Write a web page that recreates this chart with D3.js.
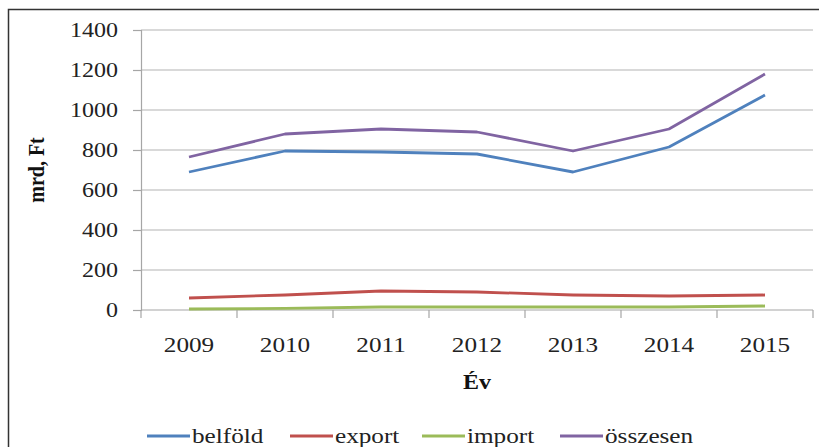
<!DOCTYPE html>
<html><head><meta charset="utf-8">
<script src="https://cdn.jsdelivr.net/npm/d3@7/dist/d3.min.js"></script>
<style>body{margin:0;background:#fff}svg{display:block}</style>
</head><body>
<svg id="c" width="819" height="447"></svg>
<script>
const years = ["2009","2010","2011","2012","2013","2014","2015"];
const belfold = [690, 795, 790, 780, 690, 815, 1075];
const exportV = [60, 75, 95, 90, 75, 70, 75];
const importV = [5, 8, 15, 15, 15, 15, 20];
const osszesen = [765, 880, 905, 890, 795, 905, 1180];
const yTicks = [0, 200, 400, 600, 800, 1000, 1200, 1400];
const seriesNames = ["belföld", "export", "import", "összesen"];
const seriesColors = ["#4F81BD", "#C0504D", "#9BBB59", "#8064A2"];
const seriesData = [belfold, exportV, importV, osszesen];

(function () {
const svg = d3.select("#c");
const font = "'Liberation Serif','Times New Roman',serif";
const sx = 1.2;

svg.append("rect").attr("x", 8.5).attr("y", 9.5).attr("width", 830).attr("height", 460)
  .attr("fill", "#fff").attr("stroke", "#333").attr("stroke-width", 1.5);

const pLeft = 141, pRight = 813, pTop = 30, pBottom = 310;
const x = d3.scaleBand().domain(years).range([pLeft, pRight]);
const y = d3.scaleLinear().domain([0, 1400]).range([pBottom, pTop]);

// gridlines
svg.append("g").selectAll("line").data(yTicks.filter(d => d > 0)).join("line")
  .attr("x1", pLeft).attr("x2", pRight).attr("y1", d => y(d)).attr("y2", d => y(d))
  .attr("stroke", "#d9d9d9").attr("stroke-width", 1.8);

// y axis
const yAxis = svg.append("g").attr("transform", `translate(${pLeft},0)`)
  .call(d3.axisLeft(y).tickValues(yTicks).tickSize(8).tickPadding(0).tickFormat(d3.format("d")));
yAxis.select(".domain").attr("stroke", "#a6a6a6").attr("stroke-width", 1.2);
yAxis.selectAll(".tick line").attr("stroke", "#a6a6a6").attr("stroke-width", 1.2);
yAxis.selectAll(".tick text").remove();
svg.append("g").selectAll("text").data(yTicks).join("text")
  .attr("transform", d => `translate(118,${y(d) + 7}) scale(${sx},1)`)
  .attr("text-anchor", "end").attr("font-family", font).attr("font-size", 20).attr("fill", "#222")
  .text(d => d);

// x axis
svg.append("line").attr("x1", pLeft).attr("x2", pRight).attr("y1", pBottom).attr("y2", pBottom)
  .attr("stroke", "#a6a6a6").attr("stroke-width", 1.2);
const bounds = years.map(d => x(d)).concat([pRight]);
svg.append("g").selectAll("line").data(bounds).join("line")
  .attr("x1", d => d).attr("x2", d => d).attr("y1", pBottom).attr("y2", pBottom + 8)
  .attr("stroke", "#a6a6a6").attr("stroke-width", 1.2);
svg.append("g").selectAll("text").data(years).join("text")
  .attr("transform", d => `translate(${x(d) + x.bandwidth() / 2},${pBottom + 42}) scale(${sx},1)`)
  .attr("text-anchor", "middle").attr("font-family", font).attr("font-size", 21).attr("fill", "#222")
  .text(d => d);

// axis titles
svg.append("text").attr("transform", `translate(${477},389) scale(${sx},1)`)
  .attr("text-anchor", "middle").attr("font-family", font).attr("font-size", 20)
  .attr("font-weight", "bold").attr("fill", "#111").text("Év");
svg.append("text").attr("transform", `translate(44,170) rotate(-90) scale(1,${sx})`)
  .attr("text-anchor", "middle").attr("font-family", font).attr("font-size", 20)
  .attr("font-weight", "bold").attr("fill", "#111").text("mrd, Ft");

// lines
const line = d3.line().x((d, i) => x(years[i]) + x.bandwidth() / 2).y(d => y(d));
svg.append("g").selectAll("path").data(seriesData).join("path")
  .attr("d", d => line(d)).attr("fill", "none")
  .attr("stroke", (d, i) => seriesColors[i]).attr("stroke-width", 2.8)
  .attr("stroke-linejoin", "round");

// legend
const legX = [147, 290, 422, 560];
const leg = svg.append("g").selectAll("g").data(seriesNames).join("g")
  .attr("transform", (d, i) => `translate(${legX[i]},0)`);
leg.append("line").attr("x1", 0).attr("x2", 43).attr("y1", 436).attr("y2", 436)
  .attr("stroke", (d, i) => seriesColors[i]).attr("stroke-width", 2.8);
leg.append("text").attr("transform", `translate(45,443) scale(${sx},1)`)
  .attr("font-family", font).attr("font-size", 21).attr("fill", "#222").text(d => d);
})();
</script>
</body></html>
